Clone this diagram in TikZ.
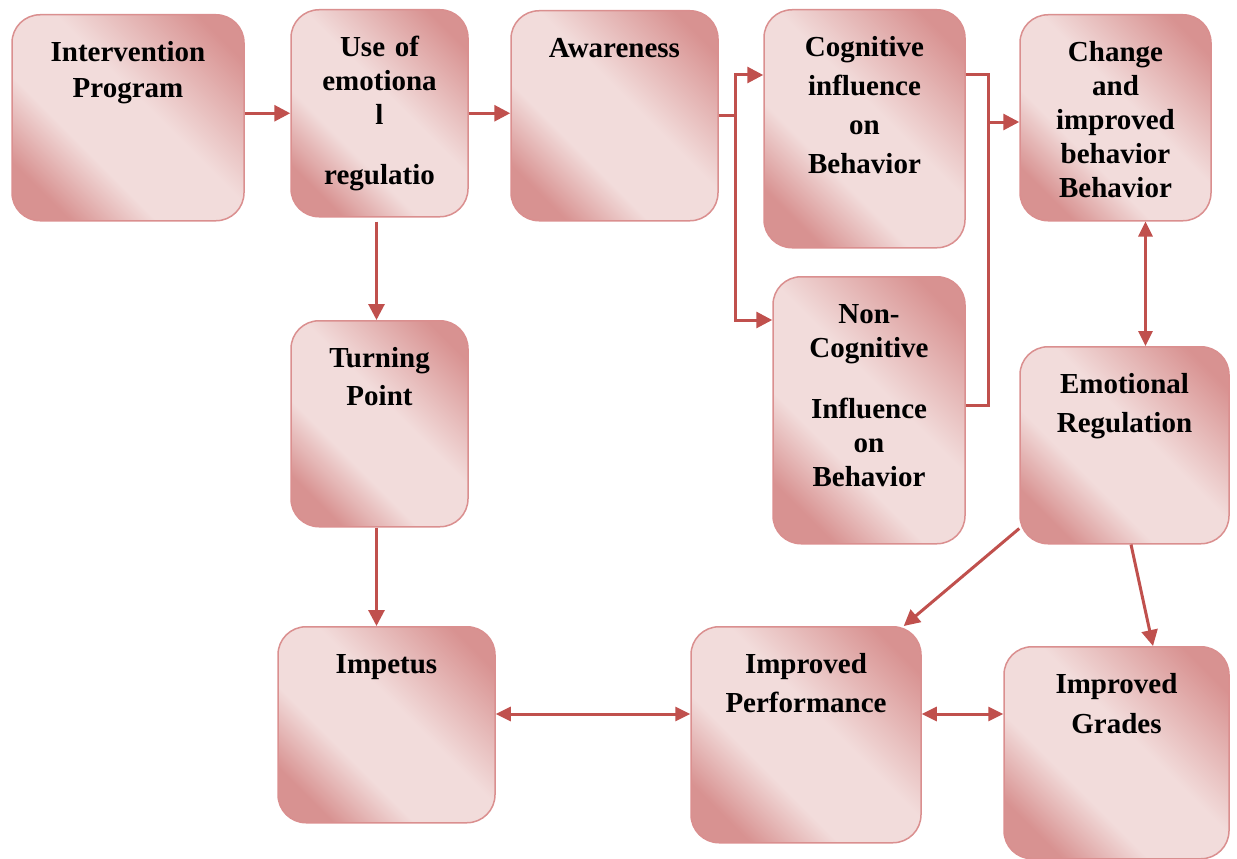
\documentclass[tikz,border=0pt]{standalone}
\usepackage{fontspec}
\setmainfont{Liberation Serif}
\usetikzlibrary{arrows.meta,positioning,calc}
\definecolor{cardlo}{RGB}{216,146,145}
\definecolor{cardhi}{RGB}{242,220,219}
\definecolor{cardedge}{RGB}{218,143,143}
\definecolor{wirec}{RGB}{192,80,77}
\pgfdeclarehorizontalshading{cardfill}{100bp}{color(0bp)=(cardlo); color(24bp)=(cardlo); color(38bp)=(cardhi); color(55bp)=(cardhi); color(78bp)=(cardlo); color(100bp)=(cardlo)}
\tikzset{card/.style={draw=cardedge,line width=1.5pt,rounded corners=28pt,shading=cardfill,shading angle=45,
  anchor=north,align=center,inner xsep=2pt,inner ysep=27pt,text height=20pt,
  font=\bfseries\fontsize{29}{34}\selectfont},
 wire/.style={draw=wirec,line width=3pt},
 arr/.style={wire,-{Triangle[length=16pt,width=16pt]}},
 darr/.style={wire,{Triangle[length=15pt,width=14pt]}-{Triangle[length=15pt,width=14pt]}}}
\begin{document}
\begin{tikzpicture}[x=1pt,y=-1pt]
\useasboundingbox (0,0) rectangle (1237,859);
\node[card,text width=228pt,text depth=132pt] (ip) at (128,14) {Intervention\\[2pt]Program};
\node[card,text width=173pt,text depth=133pt] (use) at (379.5,9) {Use of\\emotiona\\l\\[26pt]regulatio};
\node[card,text width=203pt,text depth=136pt] (aw) at (614.5,10) {Awareness};
\node[card,text width=197pt,text depth=164pt] (cog) at (864.5,9) {Cognitive\\[5pt]influence\\[5pt]on\\[5pt]Behavior};
\node[card,text width=187pt,text depth=132pt] (chg) at (1115.5,14) {Change\\and\\improved\\behavior\\Behavior};
\node[card,text width=173pt,text depth=132pt] (turn) at (379.5,320) {Turning\\[4pt]Point};
\node[card,text width=188pt,text depth=193pt] (ncog) at (869,276) {Non-\\Cognitive\\[27pt]Influence\\on\\Behavior};
\node[card,text width=205pt,text depth=123pt] (emo) at (1124.5,346) {Emotional\\[5pt]Regulation};
\node[card,text width=213pt,text depth=122pt] (imp) at (386.5,626) {Impetus};
\node[card,text width=226pt,text depth=142pt] (perf) at (806,626) {Improved\\[5pt]Performance};
\node[card,text width=221pt,text depth=138pt] (grd) at (1116.5,646) {Improved\\[6pt]Grades};
\coordinate (split) at ($(aw.east)+(17,0)$);
\coordinate (cogin) at ($(cog.north west)+(0,66)$);
\coordinate (ncogin) at ($(ncog.north west)+(0,44)$);
\coordinate (cogout) at ($(cog.north east)+(0,66)$);
\coordinate (ncogout) at ($(ncog.north east)+(0,129)$);
\coordinate (merge) at ($(cogout)+(23,0)$);
\coordinate (chgin) at ($(chg.north west)+(0,108)$);
\coordinate (usedown) at ($(use.south)+(-3,4)$);
\coordinate (turndown) at ($(turn.south)+(-3,0)$);
\coordinate (chgdown) at ($(chg.south)+(30,0)$);
\coordinate (row) at ($(perf.north)+(0,88)$);
\draw[arr] (ip.east |- use.west)--(use.west);
\draw[arr] (use.east)--(use.east -| aw.west);
\draw[arr] (aw.east) -| (split |- cogin)--(cogin);
\draw[arr] (split) |- (ncogin);
\draw[wire] (cogout) -| (merge |- ncogout)--(ncogout);
\draw[arr] (merge |- chgin)--(chgin);
\draw[arr] (usedown)--(usedown |- turn.north);
\draw[arr] (turndown)--(turndown |- imp.north);
\draw[darr] (chgdown)--(chgdown |- emo.north);
\draw[arr] ($(emo.south west)+(0,-16)$)--($(perf.north east)+(-18,0)$);
\draw[arr] ($(emo.south)+(6.5,0)$)--($(grd.north)+(36.5,0)$);
\draw[darr] (imp.east |- row)--(perf.west |- row);
\draw[darr] (perf.east |- row)--(grd.west |- row);
\end{tikzpicture}
\end{document}
